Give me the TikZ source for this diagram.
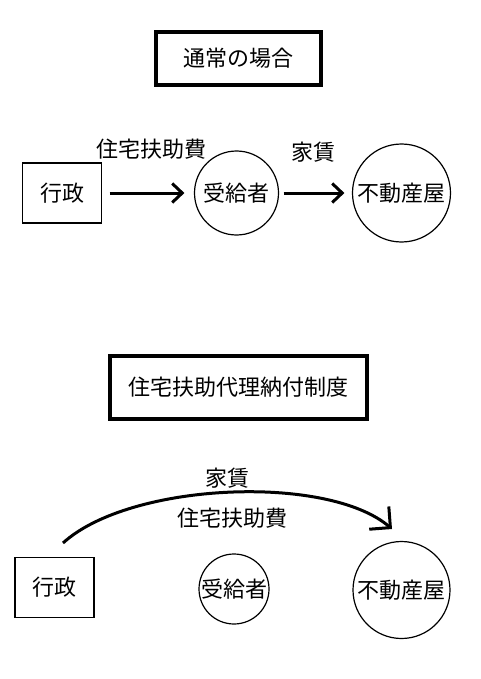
\documentclass[tikz,border=0pt]{standalone}
\usepackage{fontspec}
\newfontfamily\jpfont{Noto Sans CJK JP}
\usetikzlibrary{arrows.meta}
\tikzset{
	titlebox/.style={draw=black, line width=3.2pt, inner sep=0pt, font=\jpfont\fontsize{22}{26}\selectfont},
	govbox/.style={draw=black, line width=1.3pt, minimum width=79pt, minimum height=60pt, font=\jpfont\fontsize{22}{26}\selectfont},
	person/.style={draw=black, circle, line width=1.2pt, inner sep=0pt, font=\jpfont\fontsize{22}{26}\selectfont},
	moneytext/.style={inner sep=0pt, font=\jpfont\fontsize{22}{26}\selectfont},
	flow/.style={line width=3pt, -{Straight Barb[length=10pt,width=19pt]}}
}

\begin{document}
\begin{tikzpicture}[x=1pt, y=-1pt]
			\useasboundingbox (0, 0) rectangle (480, 679);
			% usual case
			\node[titlebox, minimum width=165pt, minimum height=53pt] (normal) at (238.5, 58.5) {通常の場合};
			\node[govbox] (gov1) at (62, 193) {行政};
			\node[person, minimum size=84pt] (recv1) at (236.5, 193) {受給者};
			\node[person, minimum size=98pt] (agent1) at (401.5, 193) {不動産屋};
			\node[moneytext] (aid1) at (151, 149) {住宅扶助費};
			\node[moneytext] (rent1) at (313, 152) {家賃};
			\draw[flow, shorten <=7.5pt, shorten >=9.5pt] (gov1) -- (recv1);
			\draw[flow, shorten <=4.5pt, shorten >=7.5pt] (recv1) -- (agent1);
			% proxy payment
			\node[titlebox, minimum width=257pt, minimum height=63pt] (proxy) at (238.5, 387.5) {住宅扶助代理納付制度};
			\node[govbox] (gov2) at (54.5, 587.5) {行政};
			\node[person, minimum size=70pt] (recv2) at (234, 589) {受給者};
			\node[person, minimum size=97pt] (agent2) at (401.5, 590) {不動産屋};
			\node[moneytext] (rent2) at (227.5, 478) {家賃};
			\node[moneytext] (aid2) at (232, 518) {住宅扶助費};
			\coordinate (curvestart) at (63, 543);
			\coordinate (curveend) at (392, 529);
			\draw[flow, -{Straight Barb[length=15pt,width=30pt]}] (curvestart) .. controls (130, 482) and (328, 474) .. (curveend);
		\end{tikzpicture}
\end{document}
